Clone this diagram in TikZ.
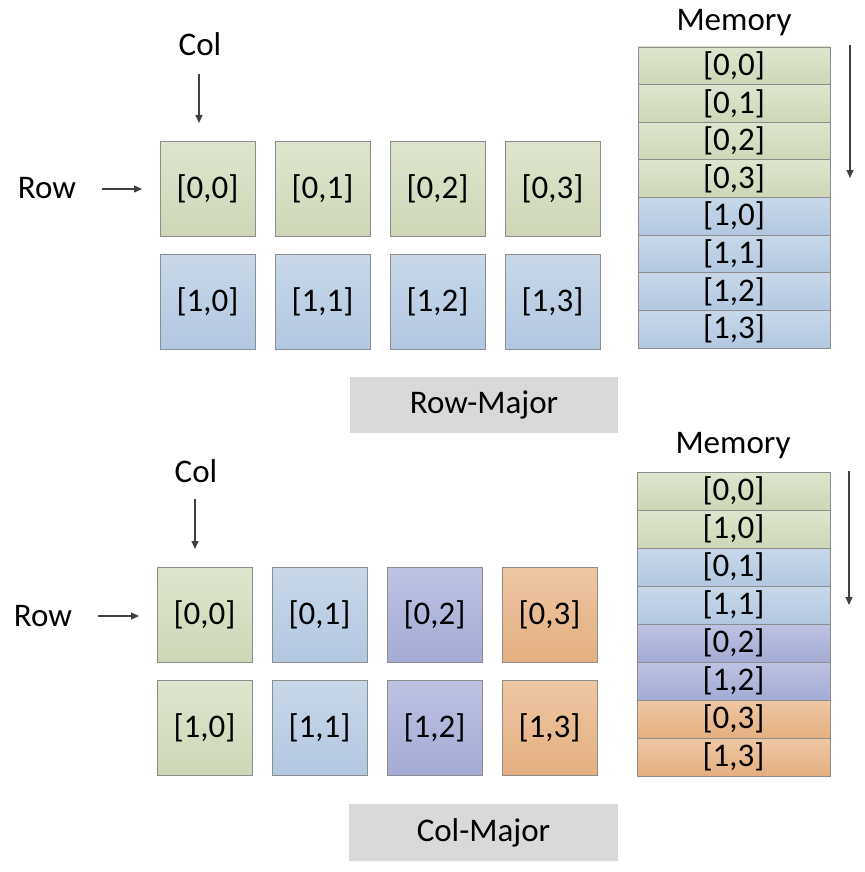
\documentclass[tikz,border=0pt]{standalone}
\usepackage{fontspec}
\setmainfont{Carlito}
\usetikzlibrary{arrows.meta}
\definecolor{bordergray}{RGB}{140,140,140}
\definecolor{arrowgray}{RGB}{64,64,64}
\definecolor{labelgray}{RGB}{217,217,217}
\definecolor{gtop}{RGB}{222,229,206}
\definecolor{gbot}{RGB}{205,215,183}
\definecolor{btop}{RGB}{200,216,233}
\definecolor{bbot}{RGB}{178,199,225}
\definecolor{ptop}{RGB}{188,195,227}
\definecolor{pbot}{RGB}{164,171,212}
\definecolor{otop}{RGB}{238,199,164}
\definecolor{obot}{RGB}{228,175,128}
\newcommand{\lblfont}{\fontsize{33}{39}\selectfont}
\tikzset{
  sq/.style={draw=bordergray, line width=0.8pt, minimum width=95pt, minimum height=95pt, inner sep=0pt, font=\lblfont},
  mem/.style={draw=bordergray, line width=0.8pt, minimum width=192pt, minimum height=37.7pt, inner sep=0pt, font=\lblfont},
  green/.style={top color=gtop, bottom color=gbot},
  blue/.style={top color=btop, bottom color=bbot},
  purple/.style={top color=ptop, bottom color=pbot},
  orange/.style={top color=otop, bottom color=obot},
  txt/.style={font=\lblfont, inner sep=0pt, anchor=base},
  tag/.style={fill=labelgray, minimum width=268pt, minimum height=56pt, inner sep=0pt, font=\lblfont},
  arr/.style={draw=arrowgray, line width=1.2pt, -{Triangle[length=8pt,width=7pt]}}
}
\begin{document}
\begin{tikzpicture}[x=1pt,y=-1pt]
\useasboundingbox (0,0) rectangle (864,872);
% ---------- Row-major ----------
\node[txt] (colA) at (200,56) {Col};
\coordinate (colAs) at (199,74);
\coordinate (colAe) at (199,123);
\draw[arr] (colAs) -- (colAe);
\node[txt] (rowA) at (47,198) {Row};
\coordinate (rowAs) at (102,189);
\coordinate (rowAe) at (142,189);
\draw[arr] (rowAs) -- (rowAe);
\foreach \j in {0,1,2,3}{
  \node[sq,green] (a0\j) at ({207.5+115*\j},188.5) {[0,\j]};
  \node[sq,blue]  (a1\j) at ({207.5+115*\j},301.5) {[1,\j]};
}
\node[txt] (memA) at (734,31) {Memory};
\foreach \i/\t/\c in {0/{[0,0]}/green,1/{[0,1]}/green,2/{[0,2]}/green,3/{[0,3]}/green,
                      4/{[1,0]}/blue,5/{[1,1]}/blue,6/{[1,2]}/blue,7/{[1,3]}/blue}{
  \node[mem,\c] (ma\i) at (734,{47+37.625*(\i+0.5)}) {\t};
}
\coordinate (memAs) at (850,45);
\coordinate (memAe) at (850,178);
\draw[arr] (memAs) -- (memAe);
\node[tag] (rowmajor) at (484,405) {Row-Major};
% ---------- Col-major ----------
\node[txt] (colB) at (196,482) {Col};
\coordinate (colBs) at (195,499);
\coordinate (colBe) at (195,549);
\draw[arr] (colBs) -- (colBe);
\node[txt] (rowB) at (43,626) {Row};
\coordinate (rowBs) at (98,616);
\coordinate (rowBe) at (139,616);
\draw[arr] (rowBs) -- (rowBe);
\foreach \j/\c in {0/green,1/blue,2/purple,3/orange}{
  \node[sq,\c] (b0\j) at ({204.5+115*\j},614.5) {[0,\j]};
  \node[sq,\c] (b1\j) at ({204.5+115*\j},727.5) {[1,\j]};
}
\node[txt] (memB) at (733,453) {Memory};
\foreach \i/\t/\c in {0/{[0,0]}/green,1/{[1,0]}/green,2/{[0,1]}/blue,3/{[1,1]}/blue,
                      4/{[0,2]}/purple,5/{[1,2]}/purple,6/{[0,3]}/orange,7/{[1,3]}/orange}{
  \node[mem,\c,minimum width=193pt,minimum height=38pt] (mb\i) at (733.5,{472+38*(\i+0.5)}) {\t};
}
\coordinate (memBs) at (849,471);
\coordinate (memBe) at (849,605);
\draw[arr] (memBs) -- (memBe);
\node[tag,minimum width=269pt,minimum height=57pt] (colmajor) at (483.5,832.5) {Col-Major};
\end{tikzpicture}
\end{document}
